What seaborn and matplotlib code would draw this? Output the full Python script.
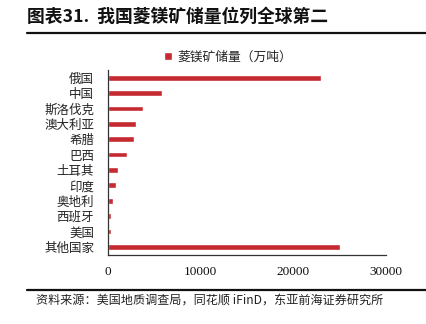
import matplotlib
matplotlib.use("Agg")
import matplotlib.pyplot as plt
import matplotlib.lines as mlines
import seaborn as sns
import pandas as pd

# Magnesite reserves by country (10k tonnes)
countries = ["俄国", "中国", "斯洛伐克", "澳大利亚", "希腊", "巴西",
             "土耳其", "印度", "奥地利", "西班牙", "美国", "其他国家"]
reserves = [23000, 5800, 3800, 3000, 2800, 2000, 1100, 850, 500, 350, 350, 25000]
series_name = "菱镁矿储量（万吨）"
x_ticks = [0, 10000, 20000, 30000]

title = "图表31.  我国菱镁矿储量位列全球第二"
source = "资料来源：美国地质调查局，同花顺 iFinD，东亚前海证券研究所"

sns.set_theme(style="white")
plt.rcParams["font.family"] = ["Noto Sans CJK SC", "DejaVu Sans"]

df = pd.DataFrame({"country": countries, "reserve": reserves})

W, H = 426, 324
fig = plt.figure(figsize=(W / 100, H / 100), dpi=100)
ax = fig.add_axes([108 / W, 1 - 254.5 / H, (386 - 108) / W, (254.5 - 70) / H])

bar_color = "#C52A30"
sns.barplot(data=df, x="reserve", y="country", orient="h", color=bar_color,
            width=0.37, ax=ax, label=series_name, saturation=1)

ax.set_xlim(0, 30000)
ax.set_ylim(11.5, -0.5)
ax.set_xticks(x_ticks)
ax.set_xticklabels([str(t) for t in x_ticks], family="Liberation Serif", fontsize=9.5)
ax.set_xlabel("")
ax.set_ylabel("")
for lbl in ax.get_yticklabels():
    lbl.set_fontsize(9)
    lbl.set_color("#222222")
ax.tick_params(axis="x", direction="in", length=3, width=0.8, colors="#333333",
               labelcolor="#111111", pad=8)
ax.tick_params(axis="y", length=0, pad=10)
for side in ["top", "right"]:
    ax.spines[side].set_visible(False)
for side in ["left", "bottom"]:
    ax.spines[side].set_color("#333333")
    ax.spines[side].set_linewidth(0.9)

if ax.get_legend() is not None:
    ax.get_legend().remove()
handles, labels = ax.get_legend_handles_labels()
fig.legend(handles[:1], labels[:1], loc="center",
           bbox_to_anchor=(228 / W, 1 - 57 / H), frameon=False,
           handlelength=0.6, handleheight=0.6, handletextpad=0.4,
           prop={"family": ["Noto Sans CJK SC"], "size": 9.2})

# Header and footer
fig.text(27 / W, 1 - 16.5 / H, title, fontsize=12.8, fontweight="bold",
         va="center", ha="left", color="#111111")
fig.add_artist(mlines.Line2D([27 / W, 1], [1 - 32.5 / H] * 2, color="#111111", lw=1.6))
fig.add_artist(mlines.Line2D([27 / W, 1], [1 - 290 / H] * 2, color="#111111", lw=1.6))
fig.text(36 / W, 1 - 300.5 / H, source, fontsize=8.7, va="center", ha="left",
         color="#222222")

fig.savefig("out.png", dpi=100)
